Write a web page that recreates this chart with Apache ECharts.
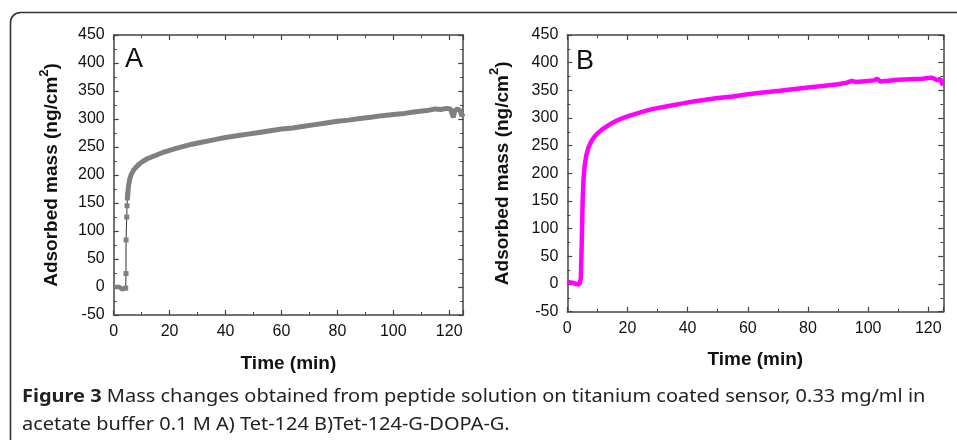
<!DOCTYPE html>
<html>
<head>
<meta charset="utf-8">
<script src="https://cdn.jsdelivr.net/npm/echarts@6/dist/echarts.min.js"></script>
<style>html,body{margin:0;padding:0;background:#fff;}#c{width:957px;height:440px;}</style>
</head>
<body>
<div id="c"></div>
<script>
// ---- Data ----
var xTicks = [0, 20, 40, 60, 80, 100, 120];
var yTicks = [-50, 0, 50, 100, 150, 200, 250, 300, 350, 400, 450];

// Panel A: Tet-124 (time in min, adsorbed mass in ng/cm2)
var aBaseline = [[0,0],[0.5,-1],[1,0],[1.5,-1],[2,0],[2.5,-2],[3,-4],[3.5,-6],[3.8,-3],[4.1,-5],[4.3,-2]];
var aRise = [[4.3,-2],[4.4,24],[4.42,84],[4.65,125],[4.77,145],[4.89,159],[5.0,165]];
var aGrowth = [[5.0,165],[5.3,180],[5.7,192],[6.2,200],[7,208],[8,214],[9,219],[10,223],[12,229],[14,233],
  [16,237],[18,241],[20,244],[22,247],[25,251],[28,255],[31,258],[34,261],[37,264],[40,267],[44,270],
  [48,273],[52,276],[56,279],[60,282],[64,284],[68,287],[72,290],[76,293],[80,296],[84,298],[88,301],
  [92,303],[96,306],[100,308],[104,310],[108,313],[112,315],[115,318],[117,317],[119,319],[120.5,318],
  [121,310],[121.5,303],[122,315],[123,318],[124,314],[124.5,305],[125,310]];

// Panel B: Tet-124-G-DOPA-G
var bSeries = [[0,3],[1,3],[2,2],[2.5,3],[3,0],[3.2,-3],[3.5,0],[4,-1],[4.3,0],[4.5,10],[4.7,50],[4.9,100],
  [5.1,150],[5.4,190],[5.8,215],[6.3,232],[7,246],[8,258],[9,266],[10,272],[12,281],[14,288],[16,294],
  [18,299],[20,303],[23,308],[26,313],[29,317],[32,320],[35,323],[38,326],[42,330],[46,333],[50,336],
  [55,339],[60,343],[65,346],[70,349],[75,352],[80,355],[85,358],[90,361],[93,364],[94.5,367],[96,365],
  [100,367],[102,368],[103,371],[104,366],[106,367],[110,369],[114,370],[118,371],[121,373],[122,371],
  [123,368],[124,371],[124.6,362],[125,360]];

var captionBold = 'Figure 3';
var captionLine1 = ' Mass changes obtained from peptide solution on titanium coated sensor, 0.33 mg/ml in';
var captionLine2 = 'acetate buffer 0.1 M A) Tet-124 B)Tet-124-G-DOPA-G.';
var yNameMain = 'Adsorbed mass (ng/cm';
var yNameSup = '2';
var xName = 'Time (min)';

// ---- Chart ----
var chart = echarts.init(document.getElementById('c'));
var axisCol = '#444';
var FF = 'Liberation Sans, Arial, sans-serif';
var lblFont = {color:'#111', fontFamily:FF, fontSize:16};
var xNameFont = {color:'#111', fontFamily:FF, fontSize:19, fontWeight:'bold'};
var yNameFont = {color:'#111', fontFamily:FF, fontSize:19, fontWeight:'bold',
  rich:{
    n:{fontFamily:FF, fontSize:19, fontWeight:'bold', color:'#111', lineHeight:24, verticalAlign:'bottom'},
    s:{fontFamily:FF, fontSize:13, fontWeight:'bold', color:'#111', lineHeight:13, verticalAlign:'top'}
  }};

function xAx(grid, pos, showLabel, gap) {
  return {
    type:'value', gridIndex:grid, position:pos, min:0, max:125, interval:20,
    name: showLabel ? xName : '', nameLocation:'middle', nameGap:gap, nameTextStyle:xNameFont,
    axisLine:{show:true, onZero:false, lineStyle:{color:axisCol, width:1.5}},
    axisTick:{show:true, inside:true, length:5, lineStyle:{color:axisCol, width:1.2}},
    minorTick:{show:true, splitNumber:2, length:3, lineStyle:{color:axisCol, width:1}},
    axisLabel:{show:showLabel, showMaxLabel:false, margin:9, ...lblFont},
    splitLine:{show:false}
  };
}
function yAx(grid, pos, showLabel, gap) {
  return {
    type:'value', gridIndex:grid, position:pos, min:-50, max:450, interval:50,
    name: showLabel ? ('{n|' + yNameMain + '}{s|' + yNameSup + '}{n|)}') : '',
    nameLocation:'middle', nameGap:gap, nameTextStyle:yNameFont,
    axisLine:{show:true, onZero:false, lineStyle:{color:axisCol, width:1.5}},
    axisTick:{show:true, inside:true, length:5, lineStyle:{color:axisCol, width:1.2}},
    minorTick:{show:true, splitNumber:2, length:3, lineStyle:{color:axisCol, width:1}},
    axisLabel:{show:showLabel, margin:9, ...lblFont},
    splitLine:{show:false}
  };
}

var option = {
  backgroundColor:'#fff',
  animation:false,
  grid:[
    {left:113.7, top:35, width:349.5, height:280},
    {left:567.3, top:35, width:376, height:276.7}
  ],
  xAxis:[xAx(0,'bottom',true,39), xAx(0,'top',false,0), xAx(1,'bottom',true,39), xAx(1,'top',false,0)],
  yAxis:[yAx(0,'left',true,52), yAx(0,'right',false,0), yAx(1,'left',true,55), yAx(1,'right',false,0)],
  series:[
    {type:'line', xAxisIndex:0, yAxisIndex:0, data:aBaseline, showSymbol:false, lineStyle:{color:'#808080', width:4.5}, z:3},
    {type:'line', xAxisIndex:0, yAxisIndex:0, data:aRise, symbol:'rect', symbolSize:5, showSymbol:true,
      itemStyle:{color:'#808080'}, lineStyle:{color:'#333', width:1}, z:2},
    {type:'line', xAxisIndex:0, yAxisIndex:0, data:aGrowth, showSymbol:false, lineStyle:{color:'#808080', width:5}, z:3},
    {type:'line', xAxisIndex:2, yAxisIndex:2, data:bSeries, showSymbol:false, lineStyle:{color:'#ff00ff', width:4.5}, z:3}
  ],
  graphic:[
    {type:'rect', shape:{x:10.5, y:12.5, width:1000, height:500, r:10}, style:{fill:null, stroke:'#333', lineWidth:1.6}, z:-1},
    {type:'text', left:125, top:46, style:{text:'A', fontFamily:FF, fontSize:27, fill:'#111'}},
    {type:'text', left:576, top:48, style:{text:'B', fontFamily:FF, fontSize:27, fill:'#111'}},
    {type:'text', x:22, y:388, scaleX:1.11, style:{
      text:'{b|'+captionBold+'}'+captionLine1,
      fontFamily:'Noto Sans, sans-serif', fontSize:18, fill:'#222', verticalAlign:'top',
      rich:{b:{fontFamily:'Noto Sans, sans-serif', fontSize:18, fontWeight:'bold', fill:'#222'}}
    }},
    {type:'text', x:22, y:415.5, scaleX:1.11, style:{text:captionLine2, fontFamily:'Noto Sans, sans-serif', fontSize:18, fill:'#222', verticalAlign:'top'}}
  ]
};
chart.setOption(option);
</script>
</body>
</html>
